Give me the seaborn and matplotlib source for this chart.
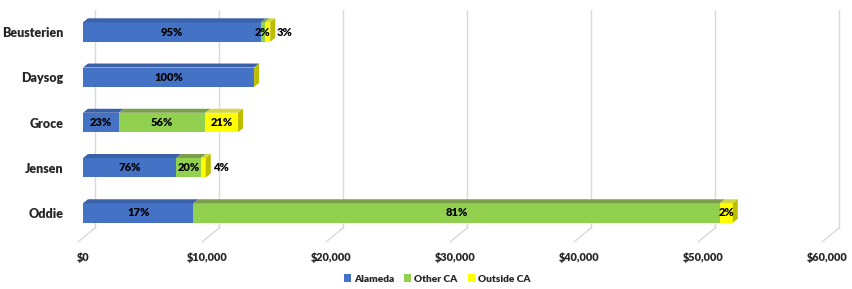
import numpy as np
import pandas as pd
import matplotlib
matplotlib.use('Agg')
import matplotlib.pyplot as plt
import matplotlib.transforms as mtransforms
from matplotlib.patches import Polygon, Patch
from matplotlib.lines import Line2D
import seaborn as sns

# data
candidates = ['Beusterien', 'Daysog', 'Groce', 'Jensen', 'Oddie']
totals = [15100, 13800, 12500, 9900, 52400]
pct_alameda = [95, 100, 23, 76, 17]
pct_other = [2, 0, 56, 20, 81]
pct_outside = [3, 0, 21, 4, 2]
series = ['Alameda', 'Other CA', 'Outside CA']
x_ticks = [0, 10000, 20000, 30000, 40000, 50000, 60000]

front_colors = {'Alameda': '#4472C4', 'Other CA': '#92D050', 'Outside CA': '#FFFF00'}
top_colors = {'Alameda': '#3A60A8', 'Other CA': '#7A9E4C', 'Outside CA': '#D6D640'}
side_color = '#BDBD00'

pcts = pd.DataFrame({'Alameda': pct_alameda, 'Other CA': pct_other,
                     'Outside CA': pct_outside}, index=candidates)
amounts = pcts.mul(totals, axis=0) / 100
cum = amounts.cumsum(axis=1)
start = cum - amounts

sns.set_theme(style='white')
plt.rcParams['font.family'] = ['Lato', 'DejaVu Sans']
wt = 'heavy'

W, H = 853, 289
fig = plt.figure(figsize=(W / 100, H / 100), dpi=100)
ax = fig.add_axes([83 / W, 1 - 235.6 / H, 744 / W, 226.2 / H])

bar_w = 0.43
# stacked bars: draw cumulative totals back to front
plot_df = cum.reset_index().rename(columns={'index': 'candidate'})
for s in reversed(series):
    sns.barplot(data=plot_df, x=s, y='candidate', color=front_colors[s],
                saturation=1, width=bar_w, orient='h', linewidth=0, ax=ax, zorder=3)
ax.set_xlim(0, 60000)
ax.set_ylim(4.5, -0.5)

# pseudo 3D depth (px converted to data units)
dx = 5 * 60000 / 744
dy = 4 / (226.2 / 5)

for i, c in enumerate(candidates):
    yt = i - bar_w / 2
    yb = i + bar_w / 2
    for s in series:
        l, r = start.loc[c, s], cum.loc[c, s]
        if r - l <= 0:
            continue
        ax.add_patch(Polygon([(l, yt), (r, yt), (r + dx, yt - dy), (l + dx, yt - dy)],
                             closed=True, facecolor=top_colors[s], edgecolor='none', zorder=4))
    T = cum.loc[c, 'Outside CA']
    ax.add_patch(Polygon([(T, yt), (T + dx, yt - dy), (T + dx, yb - dy), (T, yb)],
                         closed=True, facecolor=side_color, edgecolor='none', zorder=4))

    # percent labels
    for s in series:
        p = pcts.loc[c, s]
        if p == 0:
            continue
        l, r = start.loc[c, s], cum.loc[c, s]
        width_px = (r - l) * 744 / 60000
        if s == 'Outside CA' and width_px < 8:
            ax.text(T + dx + 150, i, f'{p}%', ha='left', va='center',
                    fontsize=8, fontweight=wt, color='black', zorder=6)
        else:
            ax.text((l + r) / 2, i, f'{p}%', ha='center', va='center',
                    fontsize=8, fontweight=wt, color='black', zorder=6)

# back-wall gridlines with floor diagonals
fig.canvas.draw()
for v in x_ticks:
    xp = ax.transData.transform((v, 0))[0]
    fig.add_artist(Line2D([xp + 12, xp + 12], [H - 10, H - 228], color='#D9D9D9',
                          lw=1, transform=mtransforms.IdentityTransform(), zorder=0))
    fig.add_artist(Line2D([xp + 12, xp - 5], [H - 228, H - 242], color='#D9D9D9',
                          lw=1, transform=mtransforms.IdentityTransform(), zorder=0))

ax.set_xticks(x_ticks)
ax.set_xticklabels([f'${v:,.0f}' for v in x_ticks], fontsize=7.8, fontweight=wt)
ax.set_yticks(range(len(candidates)))
ax.set_yticklabels(candidates, fontsize=9, fontweight=wt)
ax.tick_params(axis='x', length=0, pad=12)
ax.tick_params(axis='y', length=0, pad=14)
ax.set_xlabel('')
ax.set_ylabel('')
for sp in ax.spines.values():
    sp.set_visible(False)
ax.patch.set_alpha(0)

handles = [Patch(facecolor=front_colors[s], edgecolor='none') for s in series]
fig.legend(handles, series, loc='center', bbox_to_anchor=(437 / W, 1 - 279 / H),
           ncol=3, frameon=False, handlelength=0.7, handleheight=0.7,
           handletextpad=0.3, columnspacing=1.0, prop={'weight': wt, 'size': 7.3})

fig.savefig('out.png', dpi=100)
